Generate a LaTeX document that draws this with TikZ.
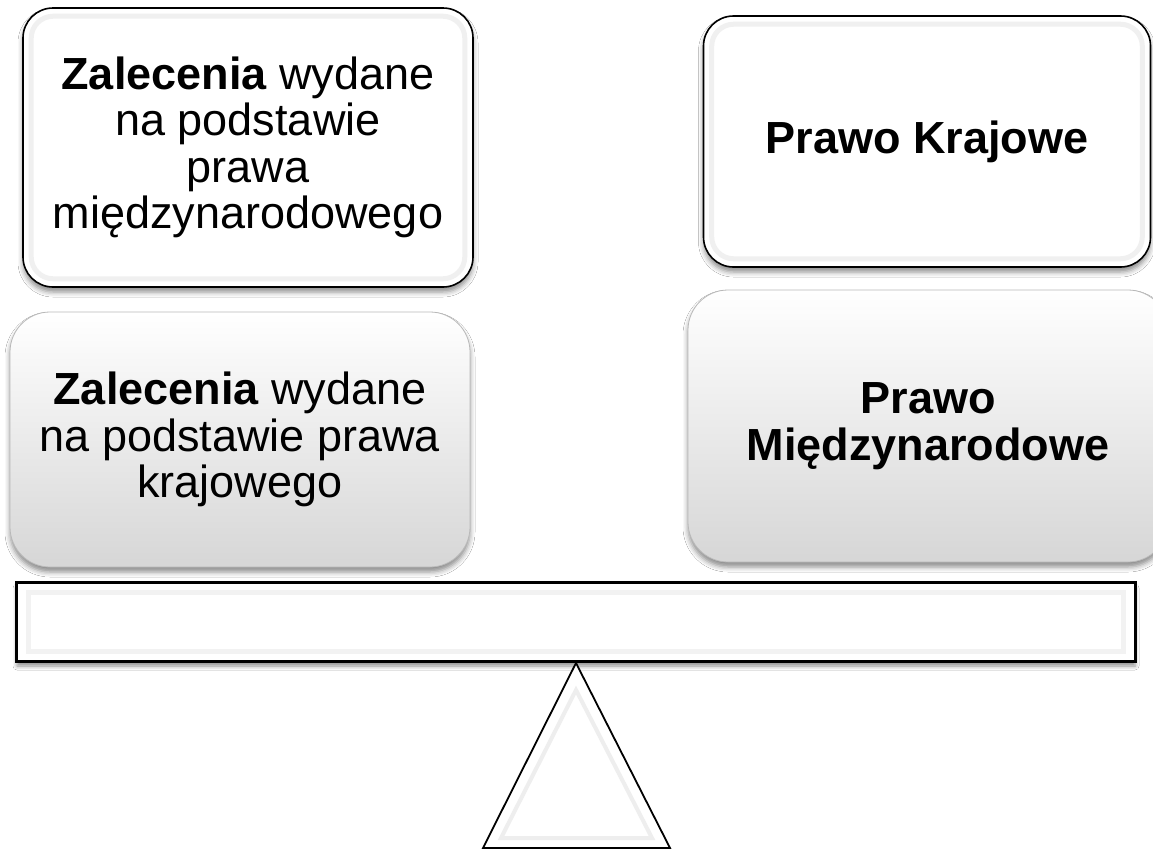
\documentclass[tikz,border=0pt]{standalone}
\usepackage{fontspec}
\setmainfont{Liberation Sans}
\usetikzlibrary{shadows.blur}
\begin{document}
\begin{tikzpicture}[x=1pt,y=-1pt,
  txt/.style={font=\fontsize{45}{46.5}\selectfont, align=center, text=black},
  whitebox/.style={draw=black, line width=1.6pt, fill=white, rounded corners=30pt,
    blur shadow={shadow xshift=0pt, shadow yshift=-5pt, shadow blur radius=5pt, shadow opacity=45}},
  graybox/.style={txt, draw=gray!55, line width=0.8pt, top color=white, bottom color=gray!32,
    rounded corners=40pt,
    blur shadow={shadow xshift=0pt, shadow yshift=-5pt, shadow blur radius=5pt, shadow opacity=45}},
  bevel/.style={draw=gray!12, line width=5pt},
  beamstyle/.style={draw=black, line width=2.2pt, fill=white,
    blur shadow={shadow xshift=0pt, shadow yshift=-5pt, shadow blur radius=4pt, shadow opacity=45}},
]
\useasboundingbox (0,0) rectangle (1153,849);
\clip (0,0) rectangle (1153,849);
\fill[white] (0,0) rectangle (1153,849);

% top-left box
\node[whitebox, minimum width=450pt, minimum height=279pt] (tl) at (248,147.5) {};
\draw[bevel, rounded corners=22pt] ([shift={(9pt,-9pt)}]tl.north west) rectangle ([shift={(-9pt,9pt)}]tl.south east);
\node[txt] (tltext) at (tl.center) {\textbf{Zalecenia} wydane\\na podstawie\\prawa\\międzynarodowego};

% top-right box
\node[whitebox, minimum width=447pt, minimum height=251pt] (tr) at (927,141.5) {};
\draw[bevel, rounded corners=22pt] ([shift={(9pt,-9pt)}]tr.north west) rectangle ([shift={(-9pt,9pt)}]tr.south east);
\node[txt] (trtext) at (tr.center) {\textbf{Prawo Krajowe}};

% bottom-left box
\node[graybox, minimum width=460pt, minimum height=255pt] (bl) at (240,439.5)
  {\textbf{Zalecenia} wydane\\na podstawie prawa\\krajowego};

% bottom-right box
\node[graybox, minimum width=480pt, minimum height=272pt] (br) at (928,426)
  {\textbf{Prawo}\\\textbf{Międzynarodowe}};

% beam
\node[beamstyle, minimum width=1118pt, minimum height=78pt, inner sep=0pt] (beam) at (576,622) {};
\draw[draw=gray!10, line width=5pt] ([shift={(13pt,-11pt)}]beam.north west) rectangle ([shift={(-13pt,11pt)}]beam.south east);
\draw[line width=2.2pt] (beam.north west) rectangle (beam.south east);

% fulcrum
\coordinate (apex) at (576,663);
\coordinate (bl2) at (483,848);
\coordinate (br2) at (670,848);
\filldraw[fill=white, draw=black, line width=1.8pt, line join=miter] (apex) -- (br2) -- (bl2) -- cycle;
\draw[draw=gray!13, line width=4pt] (576,690) -- (652,838) -- (501,838) -- cycle;
\end{tikzpicture}
\end{document}
